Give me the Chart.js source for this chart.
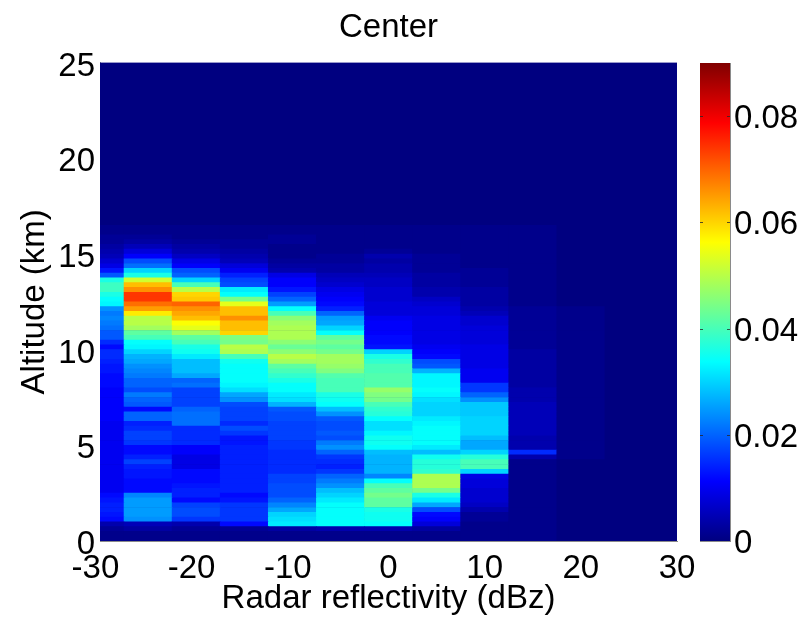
<!DOCTYPE html>
<html>
<head>
<meta charset="utf-8">
<title>Center</title>
<script src="https://cdn.jsdelivr.net/npm/chart.js@4/dist/chart.umd.min.js"></script>
<style>
    html, body { margin: 0; padding: 0; background: #fff; }
    #wrap { position: relative; width: 812px; height: 621px; }
    canvas { position: absolute; left: 0; top: 0; }
</style>
</head>
<body>
<div id="wrap">
    <canvas id="heatChart" width="812" height="621"></canvas>
    <canvas id="barChart" width="812" height="621"></canvas>
</div>
<script>
// reflectivity bin centres (dBz)
const dbzBins = [-30, -25, -20, -15, -10, -5, 0, 5, 10, 15, 20, 25, 30];
// each altitude bin is 0.25 km, columns listed from 16.5 km (top) down to 0 km
const rowStep = 0.25;

const colM30 = [.001,.001,.002,.002,.003,.004,.005,.007,.009,.013,
    .019,.036,.039,.039,.036,.034,.033,.024,.022,.023,
    .022,.021,.019,.019,.015,.012,.015,.015,.014,.013,
    .013,.012,.012,.012,.011,.011,.011,.011,.011,.011,
    .011,.010,.010,.010,.010,.010,.010,.010,.010,.010,
    .010,.010,.010,.010,.010,.010,.012,.013,.014,.014,
    .013,.012,.004,.002,.001,.001];
const colM25 = [.001,.001,.002,.003,.005,.008,.011,.018,.021,.030,
    .036,.052,.062,.066,.074,.074,.069,.065,.058,.050,
    .050,.048,.042,.040,.034,.033,.030,.027,.026,.024,
    .023,.022,.020,.020,.018,.022,.020,.019,.012,.020,
    .020,.014,.015,.017,.017,.016,.012,.012,.014,.017,
    .014,.013,.013,.012,.012,.012,.023,.025,.025,.025,
    .025,.024,.005,.003,.001,.001];
const colM20 = [.001,.001,.001,.002,.003,.004,.006,.009,.011,.018,
    .020,.030,.040,.050,.060,.061,.070,.066,.064,.062,
    .056,.054,.048,.042,.040,.036,.035,.032,.028,.028,
    .028,.026,.020,.021,.017,.017,.017,.017,.020,.021,
    .021,.021,.015,.015,.015,.015,.011,.011,.009,.009,
    .009,.012,.012,.012,.013,.014,.014,.012,.017,.018,
    .018,.016,.004,.002,.001,.001];
const colM15 = [.001,.001,.001,.002,.002,.003,.004,.005,.008,.010,
    .014,.017,.018,.032,.034,.044,.054,.062,.062,.066,
    .062,.062,.060,.045,.044,.050,.049,.040,.035,.034,
    .034,.034,.034,.033,.031,.026,.024,.018,.017,.017,
    .017,.015,.018,.016,.013,.013,.014,.014,.014,.014,
    .014,.014,.014,.014,.014,.014,.012,.013,.016,.016,
    .016,.016,.012,.002,.001,.001];
const colM10 = [.001,.001,.002,.002,.001,.001,.001,.002,.003,.004,
    .009,.011,.011,.013,.017,.020,.025,.034,.040,.046,
    .048,.049,.049,.049,.046,.043,.046,.050,.048,.042,
    .040,.038,.036,.034,.034,.032,.031,.027,.019,.018,
    .018,.017,.017,.017,.017,.016,.016,.015,.015,.015,
    .015,.015,.017,.017,.018,.018,.018,.020,.023,.026,
    .030,.031,.032,.003,.001,.001];
const colM5 = [.001,.001,.001,.001,.001,.001,.002,.002,.003,.003,
    .005,.006,.007,.009,.010,.011,.012,.014,.020,.025,
    .026,.030,.034,.042,.044,.042,.044,.048,.048,.047,
    .045,.041,.040,.040,.040,.036,.035,.034,.028,.024,
    .019,.018,.018,.019,.018,.022,.024,.020,.016,.015,
    .014,.016,.020,.022,.024,.028,.030,.032,.034,.034,
    .034,.034,.034,.004,.001,.001];
const col0 = [.001,.001,.001,.001,.001,.002,.004,.003,.004,.004,
    .005,.006,.006,.007,.007,.007,.008,.008,.008,.010,
    .011,.011,.011,.012,.012,.013,.030,.036,.038,.040,
    .040,.041,.041,.041,.047,.045,.044,.040,.038,.037,
    .034,.031,.031,.033,.035,.035,.034,.028,.027,.027,
    .027,.027,.023,.034,.040,.042,.044,.042,.042,.036,
    .035,.035,.034,.004,.001,.001];
const col5 = [.001,.001,.001,.001,.001,.001,.002,.002,.002,.002,
    .003,.003,.003,.004,.004,.006,.007,.008,.008,.009,
    .009,.009,.009,.009,.009,.010,.011,.012,.018,.019,
    .027,.033,.033,.033,.034,.033,.031,.030,.030,.030,
    .032,.033,.034,.034,.034,.034,.032,.028,.035,.037,
    .037,.038,.049,.049,.049,.044,.036,.032,.026,.018,
    .012,.011,.008,.003,.001,.001];
const col10 = [.001,.001,.001,.001,.001,.001,.001,.001,.001,.002,
    .002,.002,.002,.003,.003,.003,.003,.004,.005,.007,
    .007,.008,.008,.008,.008,.009,.009,.009,.009,.009,
    .010,.010,.010,.016,.016,.020,.024,.029,.029,.029,
    .030,.030,.030,.030,.028,.026,.026,.030,.037,.040,
    .040,.030,.009,.008,.008,.007,.007,.007,.006,.004,
    .002,.002,.001,.001,.001,.001];
const col15 = [.001,.001,.001,.001,.001,.001,.001,.001,.001,.001,
    .001,.001,.001,.001,.001,.001,.001,.002,.002,.002,
    .002,.002,.002,.002,.002,.002,.003,.003,.003,.003,
    .003,.003,.003,.003,.004,.004,.004,.005,.005,.005,
    .005,.005,.005,.005,.004,.004,.004,.015,.004,.001,
    .001,.001,.001,.001,.001,.001,.001,.001,.001,.001,
    .001,.001,.001,.001,.001,.001];
const col20 = [.000,.000,.000,.000,.000,.000,.000,.000,.000,.000,
    .000,.000,.000,.000,.000,.000,.000,.001,.001,.001,
    .001,.001,.001,.001,.001,.001,.001,.001,.001,.001,
    .001,.001,.001,.001,.001,.001,.001,.001,.001,.001,
    .001,.001,.001,.001,.001,.001,.001,.001,.001,.000,
    .000,.000,.000,.000,.000,.000,.000,.000,.000,.000,
    .000,.000,.000,.000,.000,.000];
const col25 = [.000,.000,.000,.000,.000,.000,.000,.000,.000,.000,
    .000,.000,.000,.000,.000,.000,.000,.000,.000,.000,
    .000,.000,.000,.000,.000,.000,.000,.000,.000,.000,
    .000,.000,.000,.000,.000,.000,.000,.000,.000,.000,
    .000,.000,.000,.000,.000,.000,.000,.000,.000,.000,
    .000,.000,.000,.000,.000,.000,.000,.000,.000,.000,
    .000,.000,.000,.000,.000,.000];
const col30 = col25.slice();

const columns = [colM30, colM25, colM20, colM15, colM10, colM5, col0, col5, col10, col15, col20, col25, col30];
const colorMax = 0.09;
const colorbarTop = [colorMax];

const fontName = '"Liberation Sans", Arial, sans-serif';
const fontSize = 33;
const edge = '#8a8a8a';

// matlab style jet colormap
function jet(v) {
    const t = Math.max(0, Math.min(1, v / colorMax));
    const ch = (c) => Math.round(255 * Math.max(0, Math.min(1, 1.5 - Math.abs(4 * t - c))));
    return 'rgb(' + ch(3) + ',' + ch(2) + ',' + ch(1) + ')';
}

// one stacked dataset per altitude row, bottom row first
const rowCount = colM30.length;
const datasets = [];
for (let k = rowCount - 1; k >= 0; k--) {
    datasets.push({
        label: 'row ' + k,
        data: dbzBins.map((x) => ({ x: x, y: rowStep })),
        backgroundColor: columns.map((col) => jet(col[k])),
        borderWidth: 0,
        barPercentage: 1,
        categoryPercentage: 1
    });
}

// rest of the axes (above the listed rows) is the zero colour
const plotBackground = {
    id: 'plotBackground',
    beforeDatasetsDraw(chart) {
        const a = chart.chartArea;
        chart.ctx.fillStyle = jet(0);
        chart.ctx.fillRect(a.left, a.top, a.width, a.height);
    }
};

new Chart(document.getElementById('heatChart').getContext('2d'), {
    type: 'bar',
    data: { datasets: datasets },
    plugins: [plotBackground],
    options: {
        responsive: false,
        animation: false,
        layout: { padding: { right: 135 } },
        plugins: {
            legend: { display: false },
            tooltip: { enabled: false },
            title: {
                display: true,
                text: 'Center',
                color: '#000',
                fullSize: false,
                font: { family: fontName, size: fontSize, weight: 'normal' },
                padding: { top: 8, bottom: 15 }
            }
        },
        scales: {
            x: {
                type: 'linear',
                stacked: true,
                offset: false,
                min: -30,
                max: 30,
                afterFit(scale) { scale.height = 80; },
                grid: { display: false, drawTicks: false },
                border: { color: edge },
                ticks: {
                    stepSize: 10,
                    color: '#000',
                    padding: 8,
                    maxRotation: 0,
                    autoSkip: false,
                    font: { family: fontName, size: fontSize },
                    // negative labels sit a little left of their tick in the original
                    callback: (v) => (v < 0 ? v + ' ' : String(v))
                },
                title: {
                    display: true,
                    text: 'Radar reflectivity (dBz)',
                    color: '#000',
                    font: { family: fontName, size: fontSize },
                    padding: { top: 0, bottom: 2 }
                }
            },
            y: {
                stacked: true,
                min: 0,
                max: 25,
                afterFit(scale) { scale.width = 100; },
                grid: { display: false, drawTicks: false },
                border: { color: edge },
                ticks: {
                    stepSize: 5,
                    color: '#000',
                    padding: 5,
                    labelOffset: 4,
                    font: { family: fontName, size: fontSize }
                },
                title: {
                    display: true,
                    text: 'Altitude (km)',
                    color: '#000',
                    font: { family: fontName, size: fontSize },
                    padding: { top: 15, bottom: 0 }
                }
            }
        }
    }
});

// small inward ticks on both sides of the colour bar
const barTicks = {
    id: 'barTicks',
    afterDraw(chart) {
        const s = chart.scales.y;
        const a = chart.chartArea;
        const c = chart.ctx;
        c.strokeStyle = 'rgba(40,40,40,0.8)';
        c.lineWidth = 1;
        s.ticks.forEach((t) => {
            if (t.value === 0) return;
            const py = Math.round(s.getPixelForValue(t.value)) + 0.5;
            c.beginPath();
            c.moveTo(a.left, py); c.lineTo(a.left + 3, py);
            c.moveTo(a.right - 3, py); c.lineTo(a.right, py);
            c.stroke();
        });
    }
};

new Chart(document.getElementById('barChart').getContext('2d'), {
    type: 'bar',
    data: {
        labels: [''],
        datasets: [{
            data: colorbarTop,
            borderWidth: 0,
            barPercentage: 1,
            categoryPercentage: 1,
            backgroundColor(ctx) {
                const a = ctx.chart.chartArea;
                if (!a) return jet(0);
                const g = ctx.chart.ctx.createLinearGradient(0, a.bottom, 0, a.top);
                for (let i = 0; i <= 32; i++) g.addColorStop(i / 32, jet(colorMax * i / 32));
                return g;
            }
        }]
    },
    plugins: [barTicks],
    options: {
        responsive: false,
        animation: false,
        layout: { padding: { left: 700, top: 63, bottom: 80 } },
        plugins: { legend: { display: false }, tooltip: { enabled: false }, title: { display: false } },
        scales: {
            x: {
                display: true,
                afterFit(scale) { scale.height = 0; },
                grid: { display: false, drawTicks: false },
                border: { color: edge },
                ticks: { display: false }
            },
            y: {
                position: 'right',
                min: 0,
                max: colorMax,
                afterFit(scale) { scale.width = 82; },
                grid: { display: false, drawTicks: false },
                border: { color: edge },
                ticks: {
                    stepSize: 0.02,
                    includeBounds: false,
                    color: '#000',
                    padding: 4,
                    labelOffset: 3,
                    font: { family: fontName, size: fontSize }
                }
            }
        }
    }
});
</script>
</body>
</html>
